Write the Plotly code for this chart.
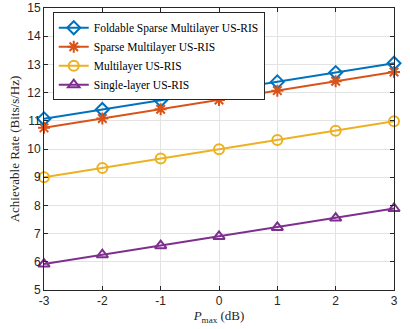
import plotly.graph_objects as go

p_max = [-3, -2, -1, 0, 1, 2, 3]

foldable_sparse = [11.07, 11.40, 11.73, 12.05, 12.38, 12.71, 13.04]
sparse_multi = [10.75, 11.08, 11.41, 11.74, 12.07, 12.40, 12.73]
multilayer = [9.00, 9.33, 9.66, 9.99, 10.32, 10.65, 10.98]
single_layer = [5.92, 6.25, 6.57, 6.90, 7.22, 7.55, 7.89]

x_ticks = [-3, -2, -1, 0, 1, 2, 3]
x_labels = ["-3", "-2", "-1", "0", "1", "2", "3"]
y_ticks = [5, 6, 7, 8, 9, 10, 11, 12, 13, 14, 15]

series = [
    ("Foldable Sparse Multilayer US-RIS", foldable_sparse, "#0072BD", "diamond-open"),
    ("Sparse Multilayer US-RIS", sparse_multi, "#D95319", "asterisk-open"),
    ("Multilayer US-RIS", multilayer, "#EDB120", "circle-open"),
    ("Single-layer US-RIS", single_layer, "#7E2F8E", "triangle-up-open"),
]

fig = go.Figure()
for name, vals, color, sym in series:
    fig.add_trace(go.Scatter(
        x=p_max, y=vals, name=name,
        mode="lines+markers",
        line=dict(color=color, width=2),
        marker=dict(symbol=sym, size=10, color=color, line=dict(color=color, width=2)),
        cliponaxis=False,
    ))

axis_common = dict(
    showline=True, linecolor="#262626", linewidth=1, mirror="ticks",
    ticks="inside", ticklen=4, tickcolor="#262626",
    showgrid=True, gridcolor="#e3e3e3", gridwidth=1,
    zeroline=False, automargin=False,
    tickfont=dict(family="Liberation Sans, Arial", size=12, color="#262626"),
)

fig.update_xaxes(
    range=[-3, 3], tickvals=x_ticks, ticktext=x_labels,
    title=dict(text="<i>P</i><sub>max</sub> (dB)", standoff=2,
               font=dict(family="Liberation Serif, Times New Roman", size=13, color="#262626")),
    **axis_common,
)
fig.update_yaxes(
    range=[5, 15], tickvals=y_ticks,
    title=dict(text="Achievable Rate (Bits/s/Hz)", standoff=4,
               font=dict(family="Liberation Serif, Times New Roman", size=13, color="#262626")),
    **axis_common,
)

fig.update_layout(
    width=410, height=329,
    margin=dict(l=44, r=16, t=8, b=39),
    paper_bgcolor="white", plot_bgcolor="white",
    legend=dict(
        x=0.025, y=0.985, xanchor="left", yanchor="top",
        bgcolor="white", bordercolor="#262626", borderwidth=1,
        font=dict(family="Liberation Serif, Times New Roman", size=11.5, color="black"),
        tracegroupgap=0, itemwidth=30,
    ),
)

# page body has a default 8px margin; drop it so the figure fills the window
fig.write_html("out.html", config={"displayModeBar": False},
               post_script="document.body.style.margin='0';")
